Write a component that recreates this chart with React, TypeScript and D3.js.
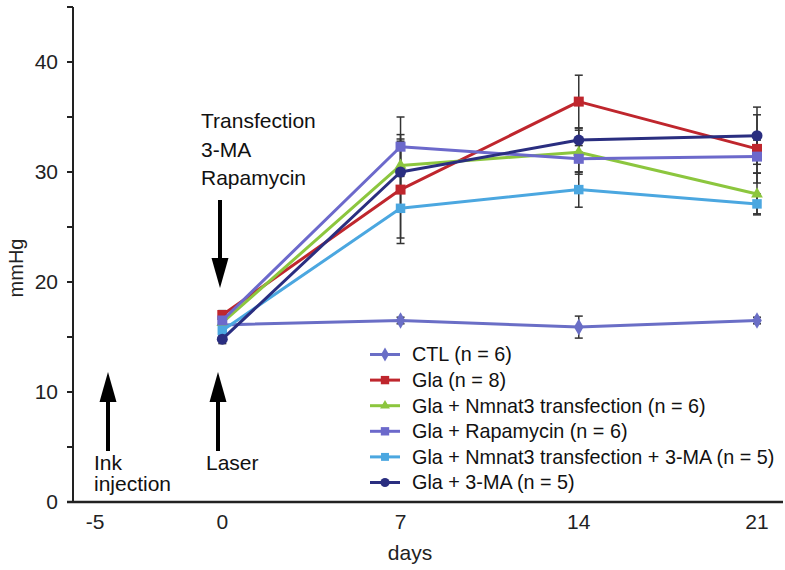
import React from 'react';
import * as d3 from 'd3';

// ---- data ----
const days = [0, 7, 14, 21];
const xTickLabels = [-5, 0, 7, 14, 21];
const yTickValues = [0, 5, 10, 15, 20, 25, 30, 35, 40, 45];
const yTickLabels = [0, 10, 20, 30, 40];

const seriesNames = [
  'CTL (n = 6)',
  'Gla (n = 8)',
  'Gla + Nmnat3 transfection (n = 6)',
  'Gla + Rapamycin (n = 6)',
  'Gla + Nmnat3 transfection + 3-MA (n = 5)',
  'Gla + 3-MA (n = 5)',
];
const ctlValues = [16.1, 16.5, 15.9, 16.5];
const ctlErrors = [0.3, 0.3, 1.0, 0.3];
const glaValues = [17.0, 28.4, 36.4, 32.1];
const glaErrors = [0.4, 4.4, 2.4, 3.1];
const nmnatValues = [16.3, 30.6, 31.8, 28.0];
const nmnatErrors = [0.4, 2.4, 2.0, 1.9];
const rapaValues = [16.5, 32.3, 31.2, 31.4];
const rapaErrors = [0.4, 2.7, 1.2, 1.5];
const nmnatMaValues = [15.6, 26.7, 28.4, 27.1];
const nmnatMaErrors = [0.4, 3.2, 1.6, 0.9];
const maValues = [14.8, 30.0, 32.9, 33.3];
const maErrors = [0.4, 3.4, 1.1, 2.6];

const seriesValues = [ctlValues, glaValues, nmnatValues, rapaValues, nmnatMaValues, maValues];
const seriesErrors = [ctlErrors, glaErrors, nmnatErrors, rapaErrors, nmnatMaErrors, maErrors];
const seriesColors = ['#6a6ec6', '#bf262d', '#8cc63e', '#6c69cb', '#4ba7e0', '#2a2e80'];
const seriesSymbols = [d3.symbolDiamond, d3.symbolSquare, d3.symbolTriangle, d3.symbolSquare, d3.symbolSquare, d3.symbolCircle];
const seriesSymbolSizes = [80, 100, 60, 100, 90, 95];

const FONT = '"Liberation Sans", Arial, Helvetica, sans-serif';

export default function App() {
  const W = 785;
  const H = 570;
  const x = d3.scaleLinear().domain([-5, 21]).range([95, 757]);
  const y = d3.scaleLinear().domain([0, 45]).range([502, 7]);
  const axisX0 = 73;
  const axisX1 = 783;
  const line = d3
    .line<number>()
    .x((_, i) => x(days[i]))
    .y((d) => y(d));

  const legendX = 370;
  const legendY0 = 354.5;
  const legendStep = 25.6;

  const arrow = (cx: number, yTail: number, yTip: number, key: string) => {
    const dir = yTip < yTail ? -1 : 1;
    const headLen = 30;
    const headHalf = 8.5;
    const yBase = yTip - dir * headLen;
    return (
      <g key={key}>
        <line x1={cx} x2={cx} y1={yTail} y2={yBase} stroke="#000" strokeWidth={4} />
        <path d={`M${cx - headHalf},${yBase} L${cx + headHalf},${yBase} L${cx},${yTip} Z`} fill="#000" />
      </g>
    );
  };

  return (
    <svg width={W} height={H} style={{ position: 'absolute', left: 0, top: 0, background: '#fff' }} fontFamily={FONT}>
      <rect width={W} height={H} fill="#fff" />
      {/* y axis */}
      <line x1={axisX0} x2={axisX0} y1={y(45)} y2={y(0)} stroke="#222" strokeWidth={2} />
      {yTickValues.map((v) => (
        <line key={'yt' + v} x1={axisX0 - 6} x2={axisX0} y1={y(v)} y2={y(v)} stroke="#222" strokeWidth={2} />
      ))}
      {yTickLabels.map((v) => (
        <text key={'yl' + v} x={58} y={y(v)} dy="0.35em" textAnchor="end" fontSize={21} fill="#222">
          {v}
        </text>
      ))}
      <text transform={`translate(23,${268}) rotate(-90)`} textAnchor="middle" fontSize={20} fill="#222">
        mmHg
      </text>
      {/* x axis */}
      <line x1={axisX0 - 6} x2={axisX1} y1={y(0)} y2={y(0)} stroke="#222" strokeWidth={2.5} />
      {xTickLabels.map((v) => (
        <text key={'xl' + v} x={x(v)} y={529} textAnchor="middle" fontSize={21} fill="#222">
          {v}
        </text>
      ))}
      <text x={410} y={560} textAnchor="middle" fontSize={21} fill="#222">
        days
      </text>

      {/* annotations */}
      <text x={201} y={128} fontSize={21} fill="#111">Transfection</text>
      <text x={201} y={157} fontSize={21} fill="#111">3-MA</text>
      <text x={201} y={185} fontSize={21} fill="#111">Rapamycin</text>
      {arrow(220, 200, 288, 'down')}
      {arrow(108, 451, 372, 'ink')}
      {arrow(218, 451, 372, 'laser')}
      <text x={94} y={470} fontSize={21} fill="#111">Ink</text>
      <text x={94} y={491} fontSize={21} fill="#111">injection</text>
      <text x={206} y={470} fontSize={21} fill="#111">Laser</text>

      {/* error bars */}
      {seriesValues.map((vals, si) => (
        <g key={'eb' + si} stroke="#333" strokeWidth={1.5}>
          {vals.map((v, i) => {
            const e = seriesErrors[si][i];
            const cx = x(days[i]);
            return (
              <g key={i}>
                <line x1={cx} x2={cx} y1={y(v - e)} y2={y(v + e)} />
                <line x1={cx - 4} x2={cx + 4} y1={y(v + e)} y2={y(v + e)} />
                <line x1={cx - 4} x2={cx + 4} y1={y(v - e)} y2={y(v - e)} />
              </g>
            );
          })}
        </g>
      ))}

      {/* lines + markers */}
      {seriesValues.map((vals, si) => (
        <g key={'s' + si}>
          <path d={line(vals) || ''} fill="none" stroke={seriesColors[si]} strokeWidth={3} strokeLinejoin="round" />
          {vals.map((v, i) => (
            <path
              key={i}
              transform={`translate(${x(days[i])},${y(v)})`}
              d={d3.symbol().type(seriesSymbols[si]).size(seriesSymbolSizes[si])() || ''}
              fill={seriesColors[si]}
            />
          ))}
        </g>
      ))}

      {/* legend */}
      {seriesNames.map((name, i) => {
        const cy = legendY0 + i * legendStep;
        return (
          <g key={'lg' + i}>
            <line x1={legendX} x2={legendX + 30} y1={cy} y2={cy} stroke={seriesColors[i]} strokeWidth={3} />
            <path
              transform={`translate(${legendX + 15},${cy})`}
              d={d3.symbol().type(seriesSymbols[i]).size(seriesSymbolSizes[i] * 0.7)() || ''}
              fill={seriesColors[i]}
            />
            <text x={412} y={cy} dy="0.35em" fontSize={19.8} fill="#111">
              {name}
            </text>
          </g>
        );
      })}
    </svg>
  );
}
